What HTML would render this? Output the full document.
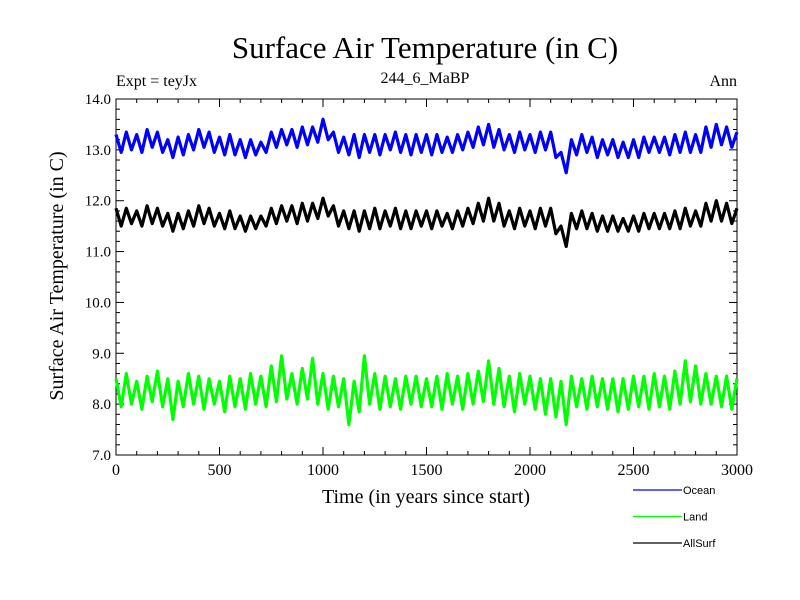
<!DOCTYPE html>
<html><head><meta charset="utf-8"><style>
body{margin:0;background:#fff}
svg{display:block;font-family:"Liberation Serif",serif}
</style></head><body>
<svg id="chart" width="800" height="600">
<text x="425" y="58" font-size="31" text-anchor="middle">Surface Air Temperature (in C)</text>
<text x="116" y="86" font-size="16">Expt = teyJx</text>
<text x="425" y="83" font-size="16" text-anchor="middle">244_6_MaBP</text>
<text x="737" y="86" font-size="16" text-anchor="end">Ann</text>
<text transform="translate(63,276) rotate(-90)" font-size="20" text-anchor="middle">Surface Air Temperature (in C)</text>
<text x="426" y="503" font-size="20" text-anchor="middle">Time (in years since start)</text>
<g id="axes"></g>
<g id="series"></g>
<g id="legend" font-family="Liberation Sans, sans-serif" font-size="11"></g>
</svg>
<script>
const xTicks=[0,500,1000,1500,2000,2500,3000];
const yTicks=[7,8,9,10,11,12,13,14];
const seriesNames=["Ocean","Land","AllSurf"];
const ocean=[13.3,12.95,13.35,13.0,13.3,12.95,13.4,13.05,13.35,12.95,
13.2,12.85,13.25,12.9,13.3,13.0,13.4,13.05,13.35,12.95,
13.25,12.9,13.3,12.9,13.2,12.85,13.2,12.9,13.15,12.95,
13.35,13.05,13.4,13.1,13.4,13.05,13.45,13.1,13.45,13.15,
13.6,13.2,13.35,12.95,13.25,12.9,13.3,12.85,13.3,12.95,
13.3,12.9,13.3,13.0,13.35,12.95,13.3,12.9,13.3,12.95,
13.3,12.9,13.3,12.95,13.25,12.95,13.3,13.0,13.35,13.05,
13.45,13.1,13.5,13.05,13.4,13.0,13.3,12.95,13.35,13.0,
13.3,12.95,13.35,13.0,13.35,12.85,12.95,12.55,13.2,12.9,
13.3,12.95,13.25,12.85,13.2,12.9,13.2,12.85,13.15,12.85,
13.2,12.85,13.25,12.95,13.25,12.95,13.25,12.9,13.3,12.95,
13.35,12.95,13.3,12.95,13.45,13.05,13.5,13.1,13.45,13.05,13.35];
const land=[8.5,7.95,8.6,8.0,8.45,7.9,8.55,8.05,8.65,7.95,
8.5,7.7,8.45,7.95,8.6,8.0,8.55,7.9,8.5,8.0,
8.45,7.85,8.55,7.95,8.5,7.9,8.6,8.0,8.55,7.95,
8.75,8.05,8.95,8.1,8.6,8.0,8.7,8.1,8.9,8.0,
8.6,7.9,8.55,7.95,8.5,7.6,8.45,7.85,8.95,8.0,
8.6,7.9,8.55,7.95,8.5,7.9,8.55,8.0,8.55,7.95,
8.5,7.95,8.55,7.9,8.6,8.0,8.55,7.9,8.6,8.0,
8.65,8.05,8.85,8.0,8.7,7.95,8.55,7.85,8.6,8.0,
8.55,7.9,8.5,7.8,8.5,7.75,8.45,7.6,8.55,7.95,
8.5,7.9,8.55,7.95,8.5,7.9,8.5,7.85,8.5,7.9,
8.55,7.95,8.55,7.9,8.6,7.95,8.55,7.9,8.65,8.0,
8.85,8.05,8.75,8.0,8.6,8.0,8.55,7.95,8.55,7.9,8.5];
const allSurf=[11.85,11.5,11.85,11.55,11.8,11.5,11.9,11.55,11.85,11.5,
11.75,11.4,11.75,11.45,11.8,11.5,11.9,11.55,11.85,11.5,
11.75,11.45,11.8,11.45,11.7,11.4,11.7,11.45,11.7,11.5,
11.85,11.55,11.9,11.6,11.9,11.55,11.95,11.6,11.95,11.65,
12.05,11.7,11.9,11.5,11.8,11.45,11.8,11.4,11.8,11.45,
11.85,11.45,11.8,11.5,11.85,11.45,11.8,11.45,11.8,11.5,
11.8,11.45,11.8,11.5,11.75,11.45,11.8,11.5,11.85,11.55,
11.95,11.6,12.05,11.6,11.95,11.5,11.8,11.45,11.85,11.5,
11.8,11.45,11.85,11.5,11.85,11.35,11.5,11.1,11.75,11.45,
11.8,11.45,11.75,11.4,11.7,11.4,11.7,11.4,11.65,11.4,
11.7,11.4,11.75,11.45,11.75,11.45,11.75,11.45,11.8,11.45,
11.85,11.5,11.8,11.5,11.95,11.6,12.0,11.6,11.95,11.55,11.85];

const L=116,R=737,T=99,B=455,NS="http://www.w3.org/2000/svg";
const xs=v=>L+(v-0)/3000*(R-L);
const ys=v=>B-(v-7)/7*(B-T);
function mk(tag,attrs,parent){const e=document.createElementNS(NS,tag);for(const k in attrs)e.setAttribute(k,attrs[k]);parent.appendChild(e);return e;}
const axes=document.getElementById('axes');
const frame=mk('rect',{x:L,y:T,width:R-L,height:B-T,fill:'none',stroke:'#000','stroke-width':1},axes);


for(let v=0;v<=3000;v+=100){
  const major=v%500===0,len=major?8:4,x=xs(v);
  const t1=mk('line',{x1:x,x2:x,y1:B,y2:B-len,stroke:'#000'},axes);
  
  
  const t2=mk('line',{x1:x,x2:x,y1:T,y2:T+len,stroke:'#000'},axes);
  
  
}
for(let i=0;i<=35;i++){
  const v=7+i*0.2,major=i%5===0,len=major?8:4,y=ys(v);
  const t1=mk('line',{x1:L,x2:L+len,y1:y,y2:y,stroke:'#000'},axes);
  
  
  const t2=mk('line',{x1:R,x2:R-len,y1:y,y2:y,stroke:'#000'},axes);
  
  
}
xTicks.forEach(v=>{const t=mk('text',{x:xs(v),y:B+20,'font-size':16,'text-anchor':'middle'},axes);t.textContent=v;
  
  });
yTicks.forEach(v=>{const t=mk('text',{x:L-5,y:ys(v)+5,'font-size':15,'text-anchor':'end'},axes);t.textContent=v.toFixed(1);
  
  });
const sg=document.getElementById('series');
function draw(arr,color,name){
  const n=arr.length;
  const pts=arr.map((v,i)=>xs(i*3000/(n-1)).toFixed(1)+','+ys(v).toFixed(1)).join(' ');
  const p=mk('polyline',{points:pts,fill:'none',stroke:color,'stroke-width':3.2,'stroke-linejoin':'round'},sg);
  
  
}
draw(land,'#00ff00','land-line');
draw(allSurf,'#000000','allsurf-line');
draw(ocean,'#0000ff','ocean-line');
const lg=document.getElementById('legend');
const cols=['#0000ff','#00ff00','#000000'];
seriesNames.forEach((nm,i)=>{
  const y=490+i*26.5;
  const ln=mk('line',{x1:633,x2:682,y1:y,y2:y,stroke:cols[i],'stroke-width':1.2},lg);
  
  
  const t=mk('text',{x:683,y:y+4},lg);t.textContent=nm;
  
  
});
</script>
</body></html>
